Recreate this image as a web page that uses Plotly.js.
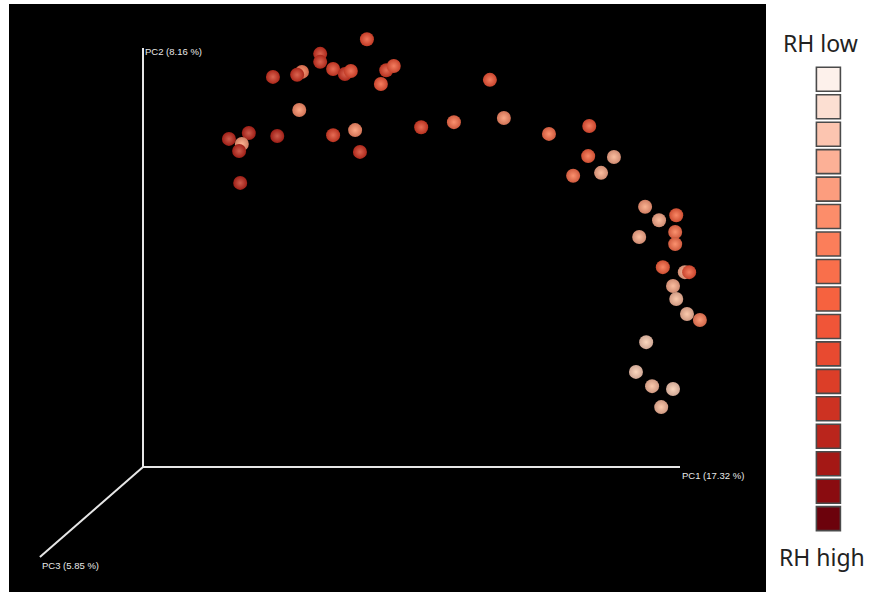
<!DOCTYPE html>
<html>
<head>
<meta charset="utf-8">
<script src="https://cdn.plot.ly/plotly-3.0.1.min.js"></script>
<style>html,body{margin:0;padding:0;background:#fff;}#chart{width:870px;height:592px;}</style>
</head>
<body>
<div id="chart"></div>
<script>
// Projected PCoA coordinates (PC1 axis length = 100, PC2 axis length = 100 in screen projection)
const pc1 = [41.7,33.0,33.0,35.4,37.6,38.7,45.3,46.7,44.3,24.2,29.6,28.7,29.1,16.0,19.7,18.4,17.9,25.0,35.4,39.5,40.4,18.1,51.8,57.9,64.6,67.2,75.6,83.1,82.9,87.7,80.1,85.3,93.5,96.1,99.3,92.4,99.1,99.1,96.8,100.9,101.7,98.7,99.3,101.3,103.7,93.7,91.8,94.8,98.7,96.5];
const pc2 = [102.1,98.6,96.7,95.0,93.8,94.5,94.7,95.7,91.4,93.1,94.3,93.6,85.2,78.3,79.7,77.1,75.4,79.0,79.2,80.4,75.2,67.8,81.1,82.3,92.4,83.3,79.5,81.4,74.2,74.0,69.5,70.2,62.1,58.9,60.1,54.9,56.1,53.2,47.7,46.5,46.5,43.2,40.1,36.5,35.1,29.8,22.7,19.3,18.6,14.3];
// RH class of each sample (1 = RH low ... 17 = RH high)
const rhClass = [11,13,13,12,13,11,12,10,10,13,7,13,6,14,14,5,14,14,12,6,13,14,12,8,10,6,8,10,9,4,8,4,5,4,9,4,8,8,9,4,10,4,3,3,7,2,2,3,2,3];
// Legend classes and colours
const rhLevels = [1,2,3,4,5,6,7,8,9,10,11,12,13,14,15,16,17];
const rhColors = ["#fdf1eb","#fcdfd2","#fcc5b0","#fcb096","#fc9d7e","#fc8d6a","#fb7e5a","#f96f4b","#f6623f","#f05538","#e84a30","#dc3e28","#cd3222","#ba251c","#a41815","#8a0c10","#6c020c"];
// Axis ends in projected units
const axisNames = ["PC1 (17.32 %)","PC2 (8.16 %)","PC3 (5.85 %)"];
const axisEnds = {pc1:[100,0], pc2:[0,100], pc3:[-19.2,-21.5]};

function hexToRgb(h){h=h.replace('#','');return [parseInt(h.substr(0,2),16),parseInt(h.substr(2,2),16),parseInt(h.substr(4,2),16)];}
function mix(h,t,f){const c=hexToRgb(h);return 'rgb('+c.map((v,i)=>Math.round(v+(t[i]-v)*f)).join(',')+')';}
function toHex(s){const m=s.match(/\d+/g).map(Number);return '#'+m.map(v=>v.toString(16).padStart(2,'0')).join('');}

const warm = rhClass.map(c=>toHex(mix(rhColors[c-1],[240,170,120],Math.max(0,(9-c)/8)*0.3)));
const edgeCol = warm.map(c=>mix(c,[40,0,0],0.2));
const centerCol = warm.map(c=>mix(c,[255,230,200],0.28));

const W=870,H=592;
const px0=9, px1=766, py0=4, py1=592;
const xr=[(px0-143)/5.37,(px1-143)/5.37];
const yr=[(467-py1)/4.19,(467-py0)/4.19];

const traces = [
  {x:[axisEnds.pc2[0],0,axisEnds.pc1[0],null,0,axisEnds.pc3[0]],
   y:[axisEnds.pc2[1],0,axisEnds.pc1[1],null,0,axisEnds.pc3[1]],
   mode:'lines',line:{color:'#e6e6e6',width:2},xaxis:'x',yaxis:'y',hoverinfo:'skip',showlegend:false},
  {x:pc1,y:pc2,mode:'markers',xaxis:'x',yaxis:'y',showlegend:false,
   marker:{size:14,color:edgeCol,gradient:{type:'radial',color:centerCol},line:{width:0}}},
  {x:rhLevels.map(()=>0.6),y:rhLevels,mode:'markers',xaxis:'x2',yaxis:'y2',showlegend:false,
   marker:{symbol:'square',size:24,color:rhColors,line:{color:'#4a4a4a',width:1.6}}}
];

const lblFont = {family:'Liberation Sans, Arial',size:9.5,color:'#e8e8e8'};
const layout = {
  width:W,height:H,margin:{l:0,r:0,t:0,b:0},
  paper_bgcolor:'#ffffff',plot_bgcolor:'rgba(0,0,0,0)',
  xaxis:{domain:[px0/W,px1/W],range:xr,visible:false,fixedrange:true},
  yaxis:{domain:[0,(H-py0)/H],range:yr,visible:false,fixedrange:true},
  xaxis2:{domain:[px1/W,1],range:[0,1],visible:false,anchor:'y2'},
  yaxis2:{domain:[0,(H-py0)/H],range:[19.67,-1.74],visible:false,anchor:'x2'},
  shapes:[{type:'rect',xref:'x domain',yref:'y domain',x0:0,x1:1,y0:0,y1:1,fillcolor:'#000',line:{width:0},layer:'below'}],
  annotations:[
    {x:axisEnds.pc2[0],y:axisEnds.pc2[1],xref:'x',yref:'y',text:axisNames[1],showarrow:false,xanchor:'left',yanchor:'middle',yshift:-3,font:lblFont},
    {x:axisEnds.pc1[0],y:axisEnds.pc1[1],xref:'x',yref:'y',text:axisNames[0],showarrow:false,xanchor:'left',yanchor:'middle',yshift:-8,font:lblFont},
    {x:axisEnds.pc3[0],y:axisEnds.pc3[1],xref:'x',yref:'y',text:axisNames[2],showarrow:false,xanchor:'left',yanchor:'middle',yshift:-8,font:lblFont},
    {x:820/W,y:1-43/H,xref:'paper',yref:'paper',text:'RH low',showarrow:false,xanchor:'center',yanchor:'middle',font:{family:'Noto Sans, Open Sans',size:23,color:'#222'}},
    {x:822/W,y:1-557/H,xref:'paper',yref:'paper',text:'RH high',showarrow:false,xanchor:'center',yanchor:'middle',font:{family:'Noto Sans, Open Sans',size:23,color:'#222'}}
  ]
};
Plotly.newPlot('chart',traces,layout,{staticPlot:true,displayModeBar:false});
</script>
</body>
</html>
